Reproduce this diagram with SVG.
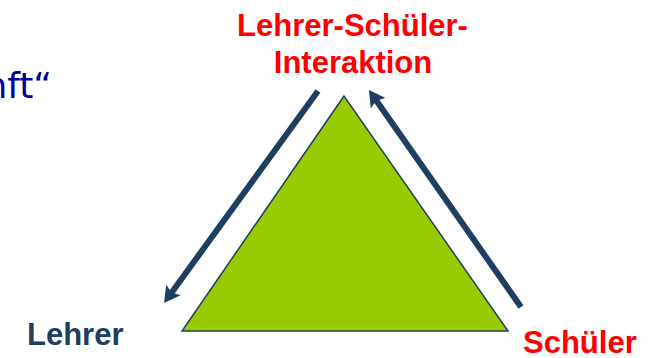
<svg xmlns="http://www.w3.org/2000/svg" width="650" height="358" viewBox="0 0 650 358">
<style>
.lbl{font-family:"Liberation Sans",Arial,sans-serif;font-weight:bold;font-size:31px}
.red{fill:#FF0000}
.navy{fill:#1F3F60}
.conn{stroke:#1F3F60;stroke-width:6;fill:none;marker-end:url(#ah)}
</style>
<defs>
<marker id="ah" viewBox="0 0 16 18" refX="6" refY="9" markerWidth="16" markerHeight="18" markerUnits="userSpaceOnUse" orient="auto">
<path d="M0,0 L16,9 L0,18 L3,9 z" fill="#1F3F60"/>
</marker>
</defs>
<rect width="650" height="358" fill="#FFFFFF"/>
<text x="52" y="98" text-anchor="end" font-family="'DejaVu Sans',Verdana,sans-serif" font-size="36" fill="#000099">nft“</text>
<g id="triangle">
<polygon points="344,96 182,331 508,331" fill="#99CC00" stroke="#1F3F60" stroke-width="1.5" stroke-linejoin="miter"/>
</g>
<g id="connectors">
<path class="conn" d="M318,91 L169.9,294.9"/>
<path class="conn" d="M521,307 L374.7,98.2"/>
</g>
<g id="interaktion">
<text class="lbl red" x="352.5" y="36" text-anchor="middle">Lehrer-Schüler-</text>
<text class="lbl red" x="353" y="73" text-anchor="middle">Interaktion</text>
</g>
<g id="lehrer">
<text class="lbl navy" x="27" y="345" font-size="30">Lehrer</text>
</g>
<g id="schueler">
<text class="lbl red" x="523" y="353">Schüler</text>
</g>
</svg>
